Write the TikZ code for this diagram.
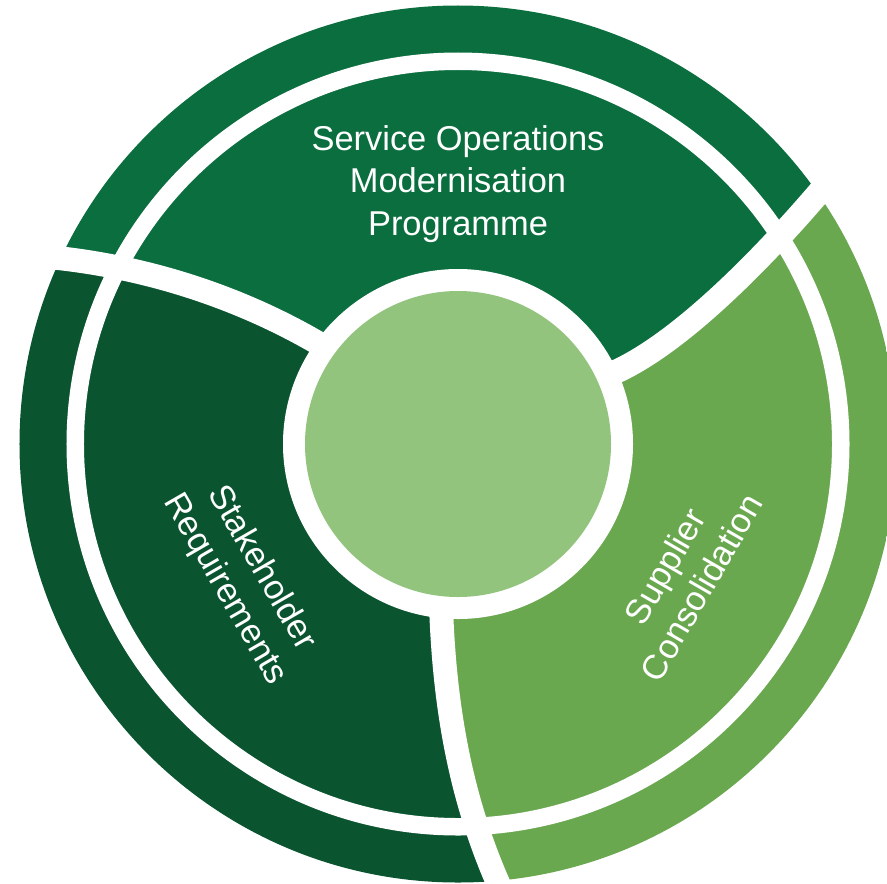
\documentclass[tikz,border=0pt]{standalone}
\usepackage{fontspec}
\setmainfont{Liberation Sans}
\usepackage{xcolor}
\usepackage{tikz}
\definecolor{topgreen}{HTML}{0B6E3E}
\definecolor{leftgreen}{HTML}{0A5430}
\definecolor{rightgreen}{HTML}{6AA84F}
\definecolor{hubgreen}{HTML}{93C47D}

\begin{document}
\begin{tikzpicture}[gap/.style={white,line width=6.8pt},lbl/.style={white,align=center,font=\fontsize{9.8pt}{12pt}\selectfont}]
	\useasboundingbox (-4.58,-4.39) rectangle (4.29,4.44);
	\coordinate (A0) at (-1.40,1.01); \coordinate (A1) at (-2.12,1.43);
	\coordinate (A2) at (-3.05,1.77); \coordinate (A3) at (-4.10,1.87);
	\coordinate (B0) at (1.55,0.71); \coordinate (B1) at (2.24,1.01);
	\coordinate (B2) at (3.12,1.93); \coordinate (B3) at (3.70,2.62);
	\coordinate (C0) at (-0.17,-1.62); \coordinate (C1) at (-0.135,-2.65);
	\coordinate (C2) at (0.03,-3.59); \coordinate (C3) at (0.45,-4.50);
	\begin{scope}
		\clip (0,0) circle (4.385);
		\fill[topgreen] (0,0) -- (A0) .. controls (A1) and (A2) .. (A3) -- (155.5:5) arc[start angle=155.5,end angle=35.3,radius=5] -- (B3) .. controls (B2) and (B1) .. (B0) -- cycle;
		\fill[rightgreen] (0,0) -- (B0) .. controls (B1) and (B2) .. (B3) -- (35.3:5) arc[start angle=35.3,end angle=-84.3,radius=5] -- (C3) .. controls (C2) and (C1) .. (C0) -- cycle;
		\fill[leftgreen] (0,0) -- (C0) .. controls (C1) and (C2) .. (C3) -- (-84.3:5) arc[start angle=-84.3,end angle=-204.5,radius=5] -- (A3) .. controls (A2) and (A1) .. (A0) -- cycle;
	\end{scope}
	\draw[gap] (A0) .. controls (A1) and (A2) .. (A3);
	\draw[gap] (B0) .. controls (B1) and (B2) .. (B3);
	\draw[gap] (C0) .. controls (C1) and (C2) .. (C3);
	\fill[white,even odd rule] (0,0) circle (3.915) circle (3.74);
	\fill[white] (0,0) circle (1.75);
	\fill[hubgreen] (0,0) circle (1.53);
	\node[lbl] (sop) at (0,2.6) {Service Operations\\Modernisation\\Programme};
	\node[lbl,rotate=-60] (stk) at (-2.15,-1.35) {Stakeholder\\Requirements};
	\node[lbl,rotate=60] (sup) at (2.25,-1.33) {Supplier\\Consolidation};
\end{tikzpicture}
\end{document}
